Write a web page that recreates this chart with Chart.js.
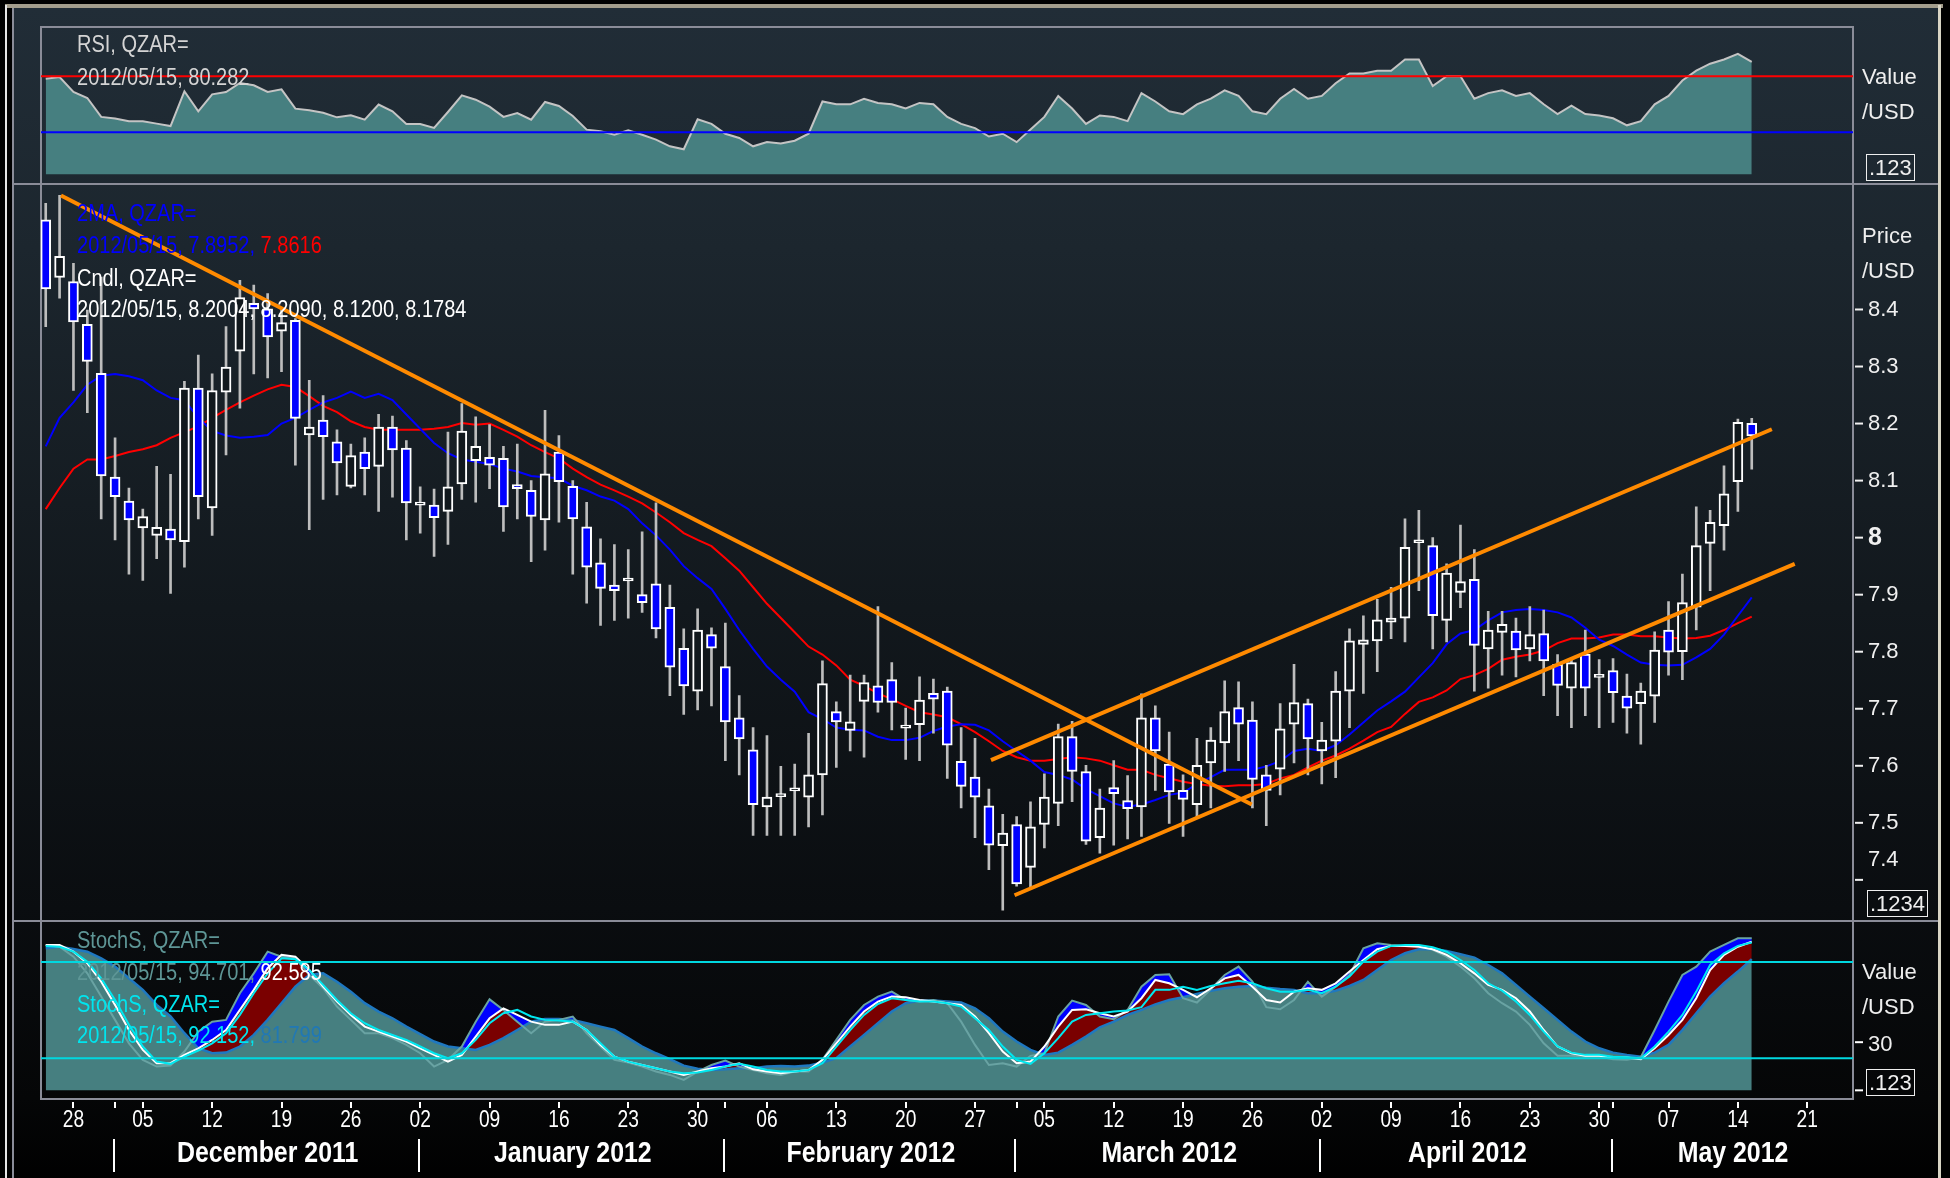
<!DOCTYPE html>
<html>
<head>
<meta charset="utf-8">
<script src="https://cdn.jsdelivr.net/npm/chart.js@4.4.1/dist/chart.umd.min.js"></script>
<style>
body{margin:0;background:#000;width:1950px;height:1178px;overflow:hidden;position:relative;font-family:"Liberation Sans",Arial,sans-serif}
#bg{position:absolute;left:14px;top:8px;width:1924px;height:1170px;background:linear-gradient(to bottom,#212d37 0px,#1c262e 240px,#12181d 600px,#0a0d10 900px,#050607 1090px,#000 1178px)}
.ln{position:absolute;background:#8a8c98}
canvas{position:absolute;left:0;top:0}
.lg{position:absolute;left:77px;font-size:23px;line-height:26px;white-space:nowrap;transform:scaleX(0.87);transform-origin:0 0}
.ax{position:absolute;left:1862px;font-size:22px;line-height:26px;color:#eee}
.box{position:absolute;border:1.5px solid #eee;color:#eee;font-size:22px;line-height:25px;padding:0 2px}
</style>
</head>
<body>
<div style="position:absolute;left:5px;top:4px;width:1938px;height:4px;background:#a39d8c"></div>
<div style="position:absolute;left:5px;top:5px;width:2px;height:1173px;background:#e6e6e6"></div>
<div style="position:absolute;left:1938px;top:5px;width:3px;height:1173px;background:#d9d5c5"></div>
<div id="bg"></div>
<div class="ln" style="left:12px;top:8px;width:2px;height:1170px"></div>
<div class="ln" style="left:41px;top:26px;width:1813px;height:2px"></div>
<div class="ln" style="left:14px;top:183px;width:1924px;height:2px"></div>
<div class="ln" style="left:14px;top:920px;width:1924px;height:2px"></div>
<div class="ln" style="left:41px;top:1098px;width:1813px;height:2px"></div>
<div class="ln" style="left:40px;top:26px;width:2px;height:1074px"></div>
<div class="ln" style="left:1852px;top:26px;width:2px;height:1074px"></div>

<canvas id="rsiChart" width="1950" height="1178"></canvas>
<canvas id="priceChart" width="1950" height="1178"></canvas>
<canvas id="stochChart" width="1950" height="1178"></canvas>

<div class="lg" style="top:31px;color:#d4d4d4">RSI, QZAR=</div>
<div class="lg" style="top:64px;color:#d4d4d4">2012/05/15, 80.282</div>
<div class="lg" style="top:200px;color:#0000ff">2MA, QZAR=</div>
<div class="lg" style="top:232px;color:#0000ff">2012/05/15, 7.8952, <span style="color:#ff0000">7.8616</span></div>
<div class="lg" style="top:265px;color:#fff">Cndl, QZAR=</div>
<div class="lg" style="top:296px;color:#fff">2012/05/15, 8.2004, 8.2090, 8.1200, 8.1784</div>
<div class="lg" style="top:927px;color:#5e9696">StochS, QZAR=</div>
<div class="lg" style="top:959px;color:#5e9696">2012/05/15, 94.701, <span style="color:#fff">92.585</span></div>
<div class="lg" style="top:991px;color:#00e5ee">StochS, QZAR=</div>
<div class="lg" style="top:1022px;color:#00e5ee">2012/05/15, 92.152, <span style="color:#2178b4">81.799</span></div>

<div class="ax" style="top:64px">Value</div>
<div class="ax" style="top:99px">/USD</div>
<div class="box" style="left:1866px;top:154px">.123</div>
<div class="ax" style="top:223px">Price</div>
<div class="ax" style="top:258px">/USD</div>
<div class="box" style="left:1867px;top:890px">.1234</div>
<div class="ax" style="top:959px">Value</div>
<div class="ax" style="top:994px">/USD</div>
<div class="box" style="left:1866px;top:1069px">.123</div>

<script>
// QZAR= daily candles, 24 Nov 2011 .. 15 May 2012 (weekdays, index 0..123)
const opens = [8.557,8.456,8.449,8.374,8.288,8.106,8.064,8.017,8.004,8.015,
  7.993,8.262,8.052,8.255,8.327,8.411,8.401,8.362,8.381,8.180,
  8.206,8.168,8.090,8.150,8.125,8.194,8.157,8.057,8.057,8.046,
  8.094,8.135,8.141,8.139,8.093,8.083,8.031,8.150,8.090,8.019,
  7.956,7.917,7.924,7.900,7.919,7.878,7.806,7.731,7.830,7.774,
  7.684,7.628,7.528,7.546,7.556,7.545,7.584,7.695,7.662,7.713,
  7.740,7.751,7.666,7.672,7.727,7.731,7.608,7.580,7.530,7.460,
  7.497,7.422,7.497,7.534,7.651,7.590,7.474,7.562,7.539,7.528,
  7.684,7.603,7.557,7.532,7.605,7.640,7.702,7.680,7.584,7.594,
  7.673,7.709,7.626,7.643,7.731,7.813,7.819,7.852,7.859,7.991,
  7.986,7.855,7.904,7.927,7.805,7.834,7.836,7.805,7.832,7.778,
  7.736,7.796,7.755,7.767,7.722,7.709,7.722,7.838,7.800,7.878,
  7.990,8.021,8.098,8.2004];
const highs = [8.586,8.600,8.481,8.399,8.457,8.175,8.087,8.050,8.125,8.111,
  8.274,8.320,8.287,8.370,8.451,8.443,8.428,8.399,8.384,8.276,
  8.249,8.189,8.164,8.175,8.216,8.213,8.170,8.089,8.085,8.185,
  8.235,8.212,8.198,8.160,8.164,8.100,8.223,8.179,8.100,8.062,
  7.998,7.988,7.979,8.010,8.061,7.917,7.840,7.875,7.842,7.850,
  7.723,7.667,7.653,7.599,7.603,7.657,7.784,7.712,7.759,7.759,
  7.879,7.781,7.701,7.756,7.752,7.738,7.667,7.648,7.559,7.515,
  7.511,7.537,7.586,7.673,7.678,7.601,7.559,7.609,7.583,7.726,
  7.705,7.659,7.584,7.648,7.667,7.749,7.747,7.712,7.601,7.709,
  7.778,7.717,7.676,7.765,7.840,7.863,7.892,7.913,8.033,8.048,
  8.000,7.954,8.022,7.979,7.871,7.871,7.859,7.879,7.873,7.795,
  7.788,7.838,7.786,7.788,7.761,7.745,7.835,7.888,7.936,8.054,
  8.048,8.126,8.208,8.2090];
const lows = [8.370,8.420,8.258,8.219,8.033,7.996,7.936,7.925,7.963,7.902,
  7.948,8.033,8.004,8.145,8.227,8.287,8.280,8.291,8.127,8.014,
  8.067,8.075,8.087,8.075,8.046,8.071,7.996,8.008,7.967,7.988,
  8.067,8.062,8.086,8.011,8.033,7.958,7.978,8.027,7.936,7.885,
  7.846,7.855,7.859,7.869,7.824,7.723,7.690,7.698,7.705,7.609,
  7.584,7.478,7.478,7.478,7.478,7.493,7.514,7.597,7.626,7.615,
  7.694,7.663,7.611,7.609,7.657,7.578,7.526,7.474,7.418,7.347,
  7.389,7.385,7.456,7.495,7.537,7.462,7.447,7.461,7.472,7.476,
  7.557,7.499,7.476,7.510,7.526,7.590,7.609,7.526,7.495,7.549,
  7.605,7.584,7.568,7.579,7.667,7.727,7.765,7.823,7.817,7.907,
  7.805,7.817,7.877,7.731,7.736,7.759,7.756,7.784,7.723,7.688,
  7.667,7.688,7.667,7.676,7.657,7.638,7.676,7.759,7.751,7.838,
  7.907,7.978,8.046,8.1200];
const closes = [8.436,8.493,8.378,8.309,8.108,8.072,8.031,8.037,8.018,7.996,
  8.262,8.072,8.258,8.299,8.421,8.401,8.352,8.377,8.209,8.194,
  8.177,8.131,8.144,8.121,8.194,8.154,8.061,8.059,8.035,8.089,
  8.187,8.160,8.127,8.054,8.086,8.037,8.112,8.098,8.033,7.948,
  7.911,7.907,7.926,7.886,7.840,7.773,7.740,7.838,7.806,7.677,
  7.647,7.532,7.545,7.548,7.558,7.584,7.744,7.677,7.677,7.746,
  7.711,7.711,7.668,7.715,7.717,7.636,7.564,7.545,7.461,7.482,
  7.393,7.493,7.545,7.651,7.590,7.468,7.526,7.551,7.525,7.684,
  7.626,7.554,7.541,7.601,7.645,7.695,7.673,7.576,7.557,7.665,
  7.711,7.647,7.645,7.731,7.819,7.821,7.856,7.859,7.983,7.993,
  7.863,7.938,7.923,7.811,7.838,7.848,7.803,7.830,7.784,7.741,
  7.781,7.736,7.757,7.728,7.701,7.731,7.803,7.799,7.886,7.986,
  8.027,8.077,8.202,8.1784];

// 2MA: fast (blue) and slow (red)
const maFast = [8.160,8.210,8.237,8.268,8.284,8.287,8.283,8.276,8.258,8.245,
  8.241,8.210,8.187,8.179,8.175,8.177,8.180,8.200,8.210,8.224,
  8.237,8.245,8.256,8.245,8.252,8.241,8.216,8.191,8.166,8.148,
  8.137,8.133,8.129,8.121,8.116,8.108,8.106,8.104,8.091,8.083,
  8.072,8.065,8.050,8.025,8.004,7.979,7.950,7.929,7.910,7.875,
  7.838,7.805,7.774,7.751,7.730,7.694,7.682,7.667,7.663,7.662,
  7.651,7.645,7.645,7.649,7.661,7.669,7.673,7.672,7.662,7.643,
  7.626,7.609,7.589,7.584,7.576,7.559,7.547,7.534,7.528,7.532,
  7.540,7.549,7.553,7.568,7.580,7.593,7.593,7.593,7.599,7.608,
  7.626,7.630,7.626,7.636,7.655,7.676,7.697,7.713,7.730,7.755,
  7.780,7.813,7.832,7.838,7.855,7.869,7.873,7.875,7.873,7.869,
  7.860,7.842,7.821,7.810,7.795,7.781,7.777,7.776,7.777,7.790,
  7.805,7.830,7.863,7.8952];
const maSlow = [8.050,8.087,8.121,8.137,8.137,8.143,8.150,8.155,8.162,8.175,
  8.185,8.195,8.210,8.224,8.237,8.249,8.260,8.268,8.264,8.248,
  8.231,8.220,8.204,8.194,8.189,8.189,8.189,8.189,8.191,8.194,
  8.201,8.198,8.200,8.189,8.177,8.162,8.150,8.139,8.121,8.106,
  8.093,8.083,8.072,8.060,8.044,8.027,8.008,7.996,7.985,7.964,
  7.942,7.913,7.884,7.859,7.834,7.809,7.795,7.776,7.751,7.740,
  7.727,7.717,7.705,7.694,7.690,7.685,7.673,7.659,7.643,7.626,
  7.615,7.609,7.609,7.612,7.615,7.613,7.609,7.601,7.593,7.593,
  7.584,7.578,7.572,7.568,7.565,7.564,7.566,7.566,7.568,7.578,
  7.584,7.597,7.609,7.618,7.630,7.644,7.659,7.668,7.691,7.712,
  7.720,7.732,7.752,7.759,7.770,7.786,7.791,7.795,7.802,7.815,
  7.823,7.823,7.825,7.830,7.830,7.827,7.827,7.825,7.823,7.824,
  7.828,7.838,7.850,7.8616];

// hand drawn trend lines [index, price]
const trendDown = [[1.1, 8.600], [86.95, 7.532]];
const channelTop = [[68.15, 7.610], [124.45, 8.190]];
const channelBottom = [[69.85, 7.373], [126.1, 7.954]];

const rsi = [68.3,69.5,58.8,54.5,41.0,39.8,37.9,37.9,36.2,34.5,
  59.3,45.0,57.1,58.8,65.2,63.6,58.8,60.7,46.9,45.7,
  44.0,40.7,42.1,39.0,49.8,45.0,36.0,36.0,33.1,44.5,
  56.4,53.3,48.3,41.0,43.8,39.0,51.7,48.8,41.7,31.9,
  30.7,28.3,31.4,28.3,24.8,20.0,17.9,39.3,36,29,
  26,20,23,22,24,29,52,50,50,54,
  51,50,47,51,50,41,36,33,27,29,
  23,32,41,56,47,36,42,41,38,58,
  52,45,43,50,54,60,56,45,43,54,
  61,54,56,65,72,72,74,74,82,82,
  63,70,70,54,58,60,56,58,50,43,
  49,43,42,40,35,38,50,56,67,74,
  79,82,86,80.282];

// StochS pair 1: fast (grey-teal) and white; pair 2: cyan and steel blue
const stochFast = [90.6,89.5,83.3,72.9,58.4,43.9,29.3,19.0,14.8,15.4,
  24.2,36.6,42.8,43.9,60.5,72.9,86.4,83.3,82.3,71.9,
  63.6,52.2,43.9,35.6,35.6,32.5,28.3,23.1,14.8,19.0,
  27.3,42.8,56.7,50.1,42.8,35.6,42.8,43.9,46.0,35.6,
  27.3,19.0,17.3,14.8,11.7,9.6,6.5,11.7,15.8,18.5,
  14.8,12.7,10.7,9.6,11.7,11.7,19.0,31.4,43.9,53.2,
  58.4,61.5,56.3,55.3,56.3,54.3,42.8,28.3,15.8,16.9,
  14.8,21.5,23.1,46.0,55.9,53.2,46.0,44.3,50.1,64.6,
  71.9,72.3,57.4,54.7,63.0,71.9,77.1,67.7,51.8,50.5,
  56.3,67.7,58.4,64.6,71.9,88.5,91.6,90.6,90.0,90.0,
  87.5,83.3,77.1,69.8,60.5,54.3,49.1,40.8,29.3,21.5,
  21.5,21.0,21.0,19.4,19.0,20.6,37.6,55.3,71.9,77.1,
  86.4,90.6,94.7,94.701];
const stochSlow = [90.6,90.6,86.4,79.2,67.7,53.2,37.6,25.2,16.9,16.9,
  22.1,26.2,31.4,37.6,50.1,62.6,76.1,84.4,83.3,75.0,
  64.6,55.3,47.0,39.7,36.6,33.5,30.4,26.2,22.1,17.9,
  22.1,33.5,44.9,51.1,47.0,42.8,40.8,40.8,42.8,37.6,
  28.3,21.0,17.9,15.8,13.8,11.7,9.6,11.7,13.8,14.8,
  16.9,13.1,11.7,10.7,11.7,12.7,19.0,29.3,39.7,49.1,
  55.3,58.4,58.0,56.3,55.3,54.3,53.2,46.0,35.6,24.2,
  16.9,17.9,27.3,39.7,50.1,50.5,48.0,46.0,49.1,57.4,
  68.8,66.7,62.6,58.0,63.6,69.8,71.9,64.6,56.3,54.7,
  61.5,63.6,62.6,66.7,74.0,81.2,87.9,90.0,90.0,89.5,
  87.9,84.4,79.2,72.9,65.7,62.6,57.4,49.1,37.6,27.3,
  23.1,21.5,21.5,20.6,20.4,19.4,26.2,34.5,43.9,57.4,
  75.0,84.4,89.5,92.585];
const stoch2K = [90.0,89.5,86.4,80.2,69.8,56.3,40.8,27.3,17.9,16.5,
  21.0,24.8,29.3,35.6,47.0,60.5,72.9,82.3,81.7,75.0,
  65.7,56.3,48.0,41.8,37.6,34.5,31.4,27.3,23.1,20.0,
  23.1,31.4,41.8,48.0,50.1,46.0,43.9,43.5,42.8,37.6,
  29.3,21.0,17.9,15.8,13.8,11.7,10.7,11.1,12.7,14.8,
  16.5,14.8,12.7,11.7,11.7,12.7,16.9,27.3,37.6,47.0,
  53.8,57.4,56.3,55.3,55.3,54.3,52.2,44.9,37.6,27.3,
  19.0,16.5,23.1,32.5,42.8,47.0,48.0,49.1,49.7,51.8,
  62.6,62.6,64.6,62.6,65.0,66.7,68.2,66.7,63.6,61.5,
  61.5,62.6,60.5,64.6,70.9,80.2,86.4,90.0,90.6,90.6,
  89.1,86.4,81.2,75.0,66.7,62.1,55.3,47.0,36.6,27.3,
  23.5,22.1,22.1,21.0,20.6,20.0,27.3,36.6,47.0,61.5,
  78.1,85.4,90.0,92.152];
const stoch2D = [88.5,89.5,88.1,86.4,82.3,77.1,69.8,62.6,53.2,46.0,
  35.6,26.2,23.1,23.5,27.3,34.5,43.9,54.3,64.6,71.9,
  72.9,67.7,61.5,54.3,49.1,44.9,39.7,35.0,30.4,27.3,
  26.2,25.2,28.3,32.5,37.6,42.8,44.5,44.5,43.9,41.8,
  39.7,37.6,32.5,27.3,23.1,19.4,15.4,13.4,12.7,13.1,
  13.8,13.8,14.8,15.2,14.8,15.4,17.3,20.0,27.3,34.5,
  41.8,49.1,54.3,55.9,55.9,55.3,54.7,51.1,44.9,36.6,
  30.4,25.2,22.1,23.5,28.3,33.5,39.3,42.8,47.0,50.1,
  53.6,56.3,58.0,60.1,62.1,63.6,64.6,65.0,64.0,63.2,
  62.6,60.5,60.5,62.1,65.0,68.8,75.0,81.2,85.4,87.9,
  88.1,86.8,84.8,82.7,78.1,72.9,65.7,58.4,51.1,43.9,
  36.6,30.4,26.2,23.5,22.1,21.0,23.5,28.3,37.6,48.0,
  58.4,66.7,74.0,81.799];

// time axis: weekday index of each Monday, and month starts
const weekTicks = [2,7,12,17,22,27,32,37,42,47,52,57,62,67,72,77,82,87,92,97,102,107,112,117,122,127];
const weekLabels = ['28','05','12','19','26','02','09','16','23','30','06','13','20','27','05','12','19','26','02','09','16','23','30','07','14','21'];
const monthStarts = [5,27,49,70,92,113];
const monthNames = ['December 2011','January 2012','February 2012','March 2012','April 2012','May 2012'];
const priceTicks = [8.4,8.3,8.2,8.1,8,7.9,7.8,7.7,7.6,7.5,7.4];

const xMin = -0.34, xMax = 130.3;
const plain = '"Liberation Sans",Arial,sans-serif';

const pts = arr => arr.map((v, i) => ({x: i, y: v}));
const seg = arr => arr.map(p => ({x: p[0], y: p[1]}));
const hline = v => [{x: xMin, y: v}, {x: xMax, y: v}];

function opts(top, bottom, yMin, yMax) {
  return {
    responsive: false, animation: false, events: [],
    layout: {padding: {left: 41, right: 97, top: top, bottom: 1178 - bottom}},
    plugins: {legend: {display: false}, tooltip: {enabled: false}},
    scales: {
      x: {type: 'linear', min: xMin, max: xMax, display: false, offset: false},
      y: {type: 'linear', min: yMin, max: yMax, display: false}
    }
  };
}

function tickMark(ctx, x, y) {
  ctx.beginPath(); ctx.moveTo(x + 2, y); ctx.lineTo(x + 10, y); ctx.stroke();
}
// condensed text: squeeze horizontally around the anchor
function narrowText(ctx, t, x, y, sx) {
  ctx.save(); ctx.translate(x, y); ctx.scale(sx, 1); ctx.fillText(t, 0, 0); ctx.restore();
}

// ---------- RSI ----------
new Chart(document.getElementById('rsiChart'), {
  type: 'line',
  data: {datasets: [
    {data: hline(70), borderColor: '#ff0000', borderWidth: 2, pointRadius: 0, order: 0},
    {data: hline(30), borderColor: '#0000ff', borderWidth: 2, pointRadius: 0, order: 0},
    {data: pts(rsi), borderColor: '#c4c4c4', borderWidth: 2, pointRadius: 0, tension: 0,
     fill: {value: 0}, backgroundColor: '#467f80', order: 1}
  ]},
  options: opts(27, 184, -6.9, 105.2)
});

// ---------- Price ----------
const priceAxis = {
  id: 'priceAxis',
  afterDraw(chart) {
    const {ctx, chartArea: a, scales: {y}} = chart;
    ctx.save();
    ctx.strokeStyle = '#f0f0f0'; ctx.fillStyle = '#f0f0f0'; ctx.lineWidth = 2;
    ctx.textBaseline = 'middle';
    priceTicks.forEach(v => {
      const py = y.getPixelForValue(v);
      tickMark(ctx, a.right, py);
      ctx.font = v === 8 ? 'bold 25px ' + plain : '22px ' + plain;
      ctx.fillText(v === 8 ? '8' : v.toFixed(1), a.right + 15, v === 7.4 ? py - 20 : py);
    });
    ctx.restore();
  }
};
const lastClose = closes[closes.length - 1];
const markX = xMax + 0.65;
const xs = opens.map((_, i) => i);
new Chart(document.getElementById('priceChart'), {
  type: 'bar',
  data: {datasets: [
    {type: 'line', data: seg(trendDown), borderColor: '#ff8a00', borderWidth: 4, pointRadius: 0, order: 0},
    {type: 'line', data: seg(channelTop), borderColor: '#ff8a00', borderWidth: 4, pointRadius: 0, order: 0},
    {type: 'line', data: seg(channelBottom), borderColor: '#ff8a00', borderWidth: 4, pointRadius: 0, order: 0},
    {type: 'line', showLine: false, clip: false, order: 0,
     data: [{x: markX, y: lastClose}, {x: markX, y: maFast[maFast.length - 1]}, {x: markX, y: maSlow[maSlow.length - 1]}],
     pointStyle: 'rectRot', pointRadius: 9, pointBorderWidth: 0,
     pointBackgroundColor: ['#ffffff', '#0000ff', '#ff0000']},
    {type: 'bar', order: 1, grouped: false, barThickness: 10, minBarLength: 3,
     data: xs.map(i => ({x: i, y: [opens[i], closes[i]]})),
     backgroundColor: xs.map(i => closes[i] >= opens[i] ? '#11181d' : '#0000ff'),
     borderColor: '#ffffff', borderWidth: 2, borderSkipped: false},
    {type: 'bar', order: 2, grouped: false, barThickness: 2,
     data: xs.map(i => ({x: i, y: [lows[i], highs[i]]})),
     backgroundColor: '#bdbdbd', borderWidth: 0},
    {type: 'line', order: 3, data: pts(maFast), borderColor: '#0000ff', borderWidth: 2, pointRadius: 0},
    {type: 'line', order: 3, data: pts(maSlow), borderColor: '#ff0000', borderWidth: 2, pointRadius: 0}
  ]},
  options: opts(184, 921.5, 7.327, 8.62),
  plugins: [priceAxis]
});

// ---------- Stochastics + time axis ----------
const timeAxis = {
  id: 'timeAxis',
  afterDraw(chart) {
    const {ctx, chartArea: a, scales: {x, y}} = chart;
    ctx.save();
    ctx.strokeStyle = '#ffffff'; ctx.fillStyle = '#ffffff'; ctx.lineWidth = 2;
    // value axis
    ctx.textBaseline = 'middle';
    [30, 0].forEach(v => tickMark(ctx, a.right, y.getPixelForValue(v)));
    ctx.font = '22px ' + plain;
    ctx.fillStyle = '#eeeeee';
    ctx.fillText('30', a.right + 15, y.getPixelForValue(30) + 3);
    ctx.fillStyle = '#ffffff';
    // day ticks
    weekTicks.concat(monthStarts).forEach(t => {
      const px = Math.round(x.getPixelForValue(t));
      ctx.beginPath(); ctx.moveTo(px, a.bottom + 3); ctx.lineTo(px, a.bottom + 9); ctx.stroke();
    });
    ctx.textAlign = 'center';
    ctx.font = '24px ' + plain;
    weekTicks.forEach((t, k) => narrowText(ctx, weekLabels[k], x.getPixelForValue(t), a.bottom + 21, 0.8));
    ctx.font = 'bold 30px ' + plain;
    monthStarts.forEach((m, k) => {
      const p0 = Math.round(x.getPixelForValue(m - 0.1));
      ctx.beginPath(); ctx.moveTo(p0, a.bottom + 40); ctx.lineTo(p0, a.bottom + 73); ctx.stroke();
      const end = k + 1 < monthStarts.length ? monthStarts[k + 1] : xMax;
      narrowText(ctx, monthNames[k], x.getPixelForValue((m + end) / 2), a.bottom + 55, 0.83);
    });
    ctx.restore();
  }
};
const stOpts = opts(921.5, 1099, -5.4, 105.2);
stOpts.plugins.filler = {drawTime: 'beforeDatasetsDraw'};
new Chart(document.getElementById('stochChart'), {
  type: 'line',
  data: {datasets: [
    // fills (drawn first, highest order first)
    {data: pts(stoch2D), borderWidth: 0, borderColor: 'rgba(0,0,0,0)', pointRadius: 0,
     fill: 'origin', backgroundColor: '#467f80', order: 10},
    {data: pts(stochFast), borderWidth: 0, borderColor: 'rgba(0,0,0,0)', pointRadius: 0,
     fill: {target: 2, above: '#0000ff', below: '#0000ff'}, order: 11},
    {data: pts(stochSlow), borderWidth: 0, borderColor: 'rgba(0,0,0,0)', pointRadius: 0,
     fill: {target: 0, above: '#7a0000', below: '#7a0000'}, order: 12},
    // lines
    {data: pts(stoch2D), borderColor: '#1f78c0', borderWidth: 2.5, pointRadius: 0, order: 5},
    {data: pts(stochFast), borderColor: '#69a3a3', borderWidth: 2, pointRadius: 0, order: 4},
    {data: pts(stochSlow), borderColor: '#ffffff', borderWidth: 2, pointRadius: 0, order: 3},
    {data: pts(stoch2K), borderColor: '#00e8f0', borderWidth: 2, pointRadius: 0, order: 2},
    {data: hline(80), borderColor: '#00d8e0', borderWidth: 2, pointRadius: 0, order: 1},
    {data: hline(20), borderColor: '#00d8e0', borderWidth: 2, pointRadius: 0, order: 1}
  ]},
  options: stOpts,
  plugins: [timeAxis]
});
</script>
</body>
</html>
